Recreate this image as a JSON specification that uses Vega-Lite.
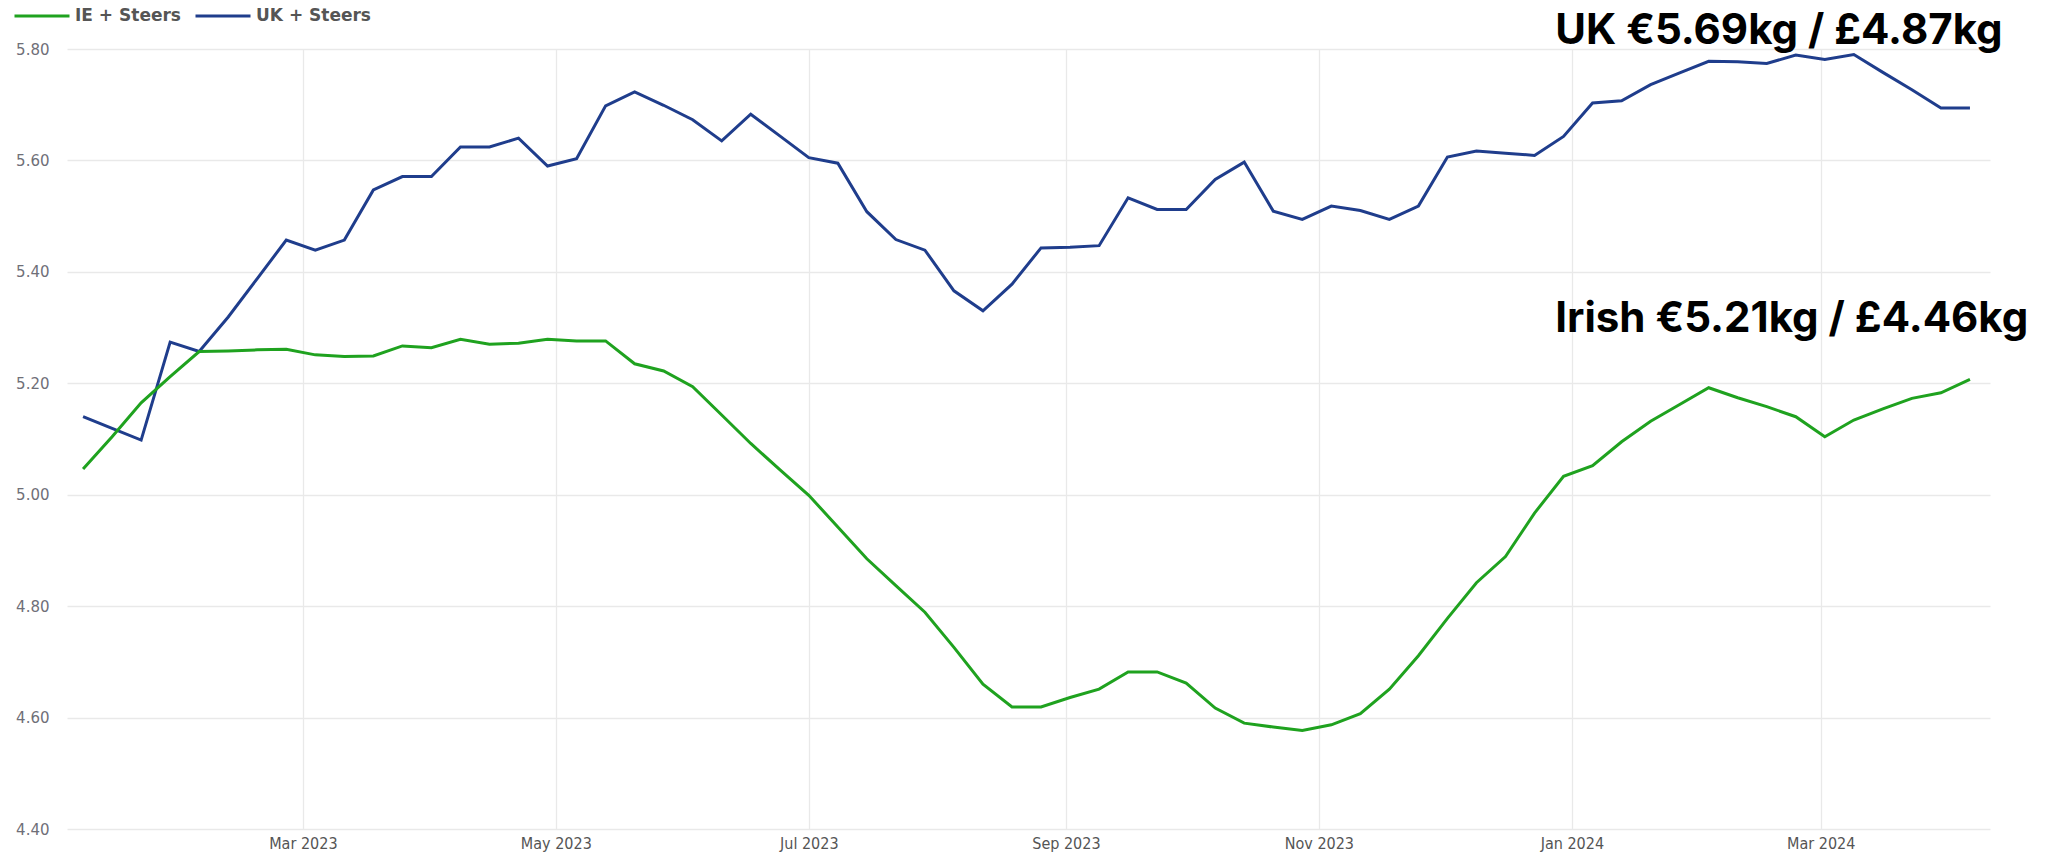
{
  "$schema": "https://vega.github.io/schema/vega-lite/v6.json",
  "autosize": {"type": "none"},
  "width": 1923,
  "height": 780,
  "padding": {"left": 67, "top": 49, "right": 72, "bottom": 36},
  "background": "white",
  "config": {
    "view": {"stroke": null},
    "axis": {"gridColor": "#e9e9e9", "gridWidth": 1.3, "domain": false, "ticks": false, "title": null}
  },
  "datasets": {
    "prices": [
      {"date": "2023-01-07", "series": "UK + Steers", "value": 5.140},
      {"date": "2023-01-14", "series": "UK + Steers", "value": 5.119},
      {"date": "2023-01-21", "series": "UK + Steers", "value": 5.098},
      {"date": "2023-01-28", "series": "UK + Steers", "value": 5.274},
      {"date": "2023-02-04", "series": "UK + Steers", "value": 5.257},
      {"date": "2023-02-11", "series": "UK + Steers", "value": 5.319},
      {"date": "2023-02-18", "series": "UK + Steers", "value": 5.388},
      {"date": "2023-02-25", "series": "UK + Steers", "value": 5.457},
      {"date": "2023-03-04", "series": "UK + Steers", "value": 5.439},
      {"date": "2023-03-11", "series": "UK + Steers", "value": 5.457},
      {"date": "2023-03-18", "series": "UK + Steers", "value": 5.547},
      {"date": "2023-03-25", "series": "UK + Steers", "value": 5.571},
      {"date": "2023-04-01", "series": "UK + Steers", "value": 5.571},
      {"date": "2023-04-08", "series": "UK + Steers", "value": 5.624},
      {"date": "2023-04-15", "series": "UK + Steers", "value": 5.624},
      {"date": "2023-04-22", "series": "UK + Steers", "value": 5.640},
      {"date": "2023-04-29", "series": "UK + Steers", "value": 5.590},
      {"date": "2023-05-06", "series": "UK + Steers", "value": 5.603},
      {"date": "2023-05-13", "series": "UK + Steers", "value": 5.698},
      {"date": "2023-05-20", "series": "UK + Steers", "value": 5.723},
      {"date": "2023-05-27", "series": "UK + Steers", "value": 5.699},
      {"date": "2023-06-03", "series": "UK + Steers", "value": 5.673},
      {"date": "2023-06-10", "series": "UK + Steers", "value": 5.635},
      {"date": "2023-06-17", "series": "UK + Steers", "value": 5.683},
      {"date": "2023-06-24", "series": "UK + Steers", "value": 5.644},
      {"date": "2023-07-01", "series": "UK + Steers", "value": 5.605},
      {"date": "2023-07-08", "series": "UK + Steers", "value": 5.595},
      {"date": "2023-07-15", "series": "UK + Steers", "value": 5.508},
      {"date": "2023-07-22", "series": "UK + Steers", "value": 5.458},
      {"date": "2023-07-29", "series": "UK + Steers", "value": 5.439},
      {"date": "2023-08-05", "series": "UK + Steers", "value": 5.366},
      {"date": "2023-08-12", "series": "UK + Steers", "value": 5.330},
      {"date": "2023-08-19", "series": "UK + Steers", "value": 5.378},
      {"date": "2023-08-26", "series": "UK + Steers", "value": 5.443},
      {"date": "2023-09-02", "series": "UK + Steers", "value": 5.444},
      {"date": "2023-09-09", "series": "UK + Steers", "value": 5.447},
      {"date": "2023-09-16", "series": "UK + Steers", "value": 5.533},
      {"date": "2023-09-23", "series": "UK + Steers", "value": 5.512},
      {"date": "2023-09-30", "series": "UK + Steers", "value": 5.512},
      {"date": "2023-10-07", "series": "UK + Steers", "value": 5.566},
      {"date": "2023-10-14", "series": "UK + Steers", "value": 5.597},
      {"date": "2023-10-21", "series": "UK + Steers", "value": 5.509},
      {"date": "2023-10-28", "series": "UK + Steers", "value": 5.494},
      {"date": "2023-11-04", "series": "UK + Steers", "value": 5.518},
      {"date": "2023-11-11", "series": "UK + Steers", "value": 5.510},
      {"date": "2023-11-18", "series": "UK + Steers", "value": 5.494},
      {"date": "2023-11-25", "series": "UK + Steers", "value": 5.518},
      {"date": "2023-12-02", "series": "UK + Steers", "value": 5.606},
      {"date": "2023-12-09", "series": "UK + Steers", "value": 5.617},
      {"date": "2023-12-16", "series": "UK + Steers", "value": 5.613},
      {"date": "2023-12-23", "series": "UK + Steers", "value": 5.609},
      {"date": "2023-12-30", "series": "UK + Steers", "value": 5.643},
      {"date": "2024-01-06", "series": "UK + Steers", "value": 5.703},
      {"date": "2024-01-13", "series": "UK + Steers", "value": 5.707},
      {"date": "2024-01-20", "series": "UK + Steers", "value": 5.736},
      {"date": "2024-01-27", "series": "UK + Steers", "value": 5.757},
      {"date": "2024-02-03", "series": "UK + Steers", "value": 5.778},
      {"date": "2024-02-10", "series": "UK + Steers", "value": 5.777},
      {"date": "2024-02-17", "series": "UK + Steers", "value": 5.774},
      {"date": "2024-02-24", "series": "UK + Steers", "value": 5.789},
      {"date": "2024-03-02", "series": "UK + Steers", "value": 5.781},
      {"date": "2024-03-09", "series": "UK + Steers", "value": 5.790},
      {"date": "2024-03-16", "series": "UK + Steers", "value": 5.758},
      {"date": "2024-03-23", "series": "UK + Steers", "value": 5.727},
      {"date": "2024-03-30", "series": "UK + Steers", "value": 5.694},
      {"date": "2024-04-06", "series": "UK + Steers", "value": 5.694},
      {"date": "2023-01-07", "series": "IE + Steers", "value": 5.046},
      {"date": "2023-01-14", "series": "IE + Steers", "value": 5.104},
      {"date": "2023-01-21", "series": "IE + Steers", "value": 5.165},
      {"date": "2023-01-28", "series": "IE + Steers", "value": 5.212},
      {"date": "2023-02-04", "series": "IE + Steers", "value": 5.257},
      {"date": "2023-02-11", "series": "IE + Steers", "value": 5.258},
      {"date": "2023-02-18", "series": "IE + Steers", "value": 5.260},
      {"date": "2023-02-25", "series": "IE + Steers", "value": 5.261},
      {"date": "2023-03-04", "series": "IE + Steers", "value": 5.251},
      {"date": "2023-03-11", "series": "IE + Steers", "value": 5.248},
      {"date": "2023-03-18", "series": "IE + Steers", "value": 5.249},
      {"date": "2023-03-25", "series": "IE + Steers", "value": 5.267},
      {"date": "2023-04-01", "series": "IE + Steers", "value": 5.264},
      {"date": "2023-04-08", "series": "IE + Steers", "value": 5.279},
      {"date": "2023-04-15", "series": "IE + Steers", "value": 5.270},
      {"date": "2023-04-22", "series": "IE + Steers", "value": 5.272},
      {"date": "2023-04-29", "series": "IE + Steers", "value": 5.279},
      {"date": "2023-05-06", "series": "IE + Steers", "value": 5.276},
      {"date": "2023-05-13", "series": "IE + Steers", "value": 5.276},
      {"date": "2023-05-20", "series": "IE + Steers", "value": 5.235},
      {"date": "2023-05-27", "series": "IE + Steers", "value": 5.222},
      {"date": "2023-06-03", "series": "IE + Steers", "value": 5.194},
      {"date": "2023-06-10", "series": "IE + Steers", "value": 5.143},
      {"date": "2023-06-17", "series": "IE + Steers", "value": 5.092},
      {"date": "2023-06-24", "series": "IE + Steers", "value": 5.045},
      {"date": "2023-07-01", "series": "IE + Steers", "value": 4.999},
      {"date": "2023-07-08", "series": "IE + Steers", "value": 4.942},
      {"date": "2023-07-15", "series": "IE + Steers", "value": 4.885},
      {"date": "2023-07-22", "series": "IE + Steers", "value": 4.837},
      {"date": "2023-07-29", "series": "IE + Steers", "value": 4.789},
      {"date": "2023-08-05", "series": "IE + Steers", "value": 4.726},
      {"date": "2023-08-12", "series": "IE + Steers", "value": 4.660},
      {"date": "2023-08-19", "series": "IE + Steers", "value": 4.619},
      {"date": "2023-08-26", "series": "IE + Steers", "value": 4.619},
      {"date": "2023-09-02", "series": "IE + Steers", "value": 4.636},
      {"date": "2023-09-09", "series": "IE + Steers", "value": 4.651},
      {"date": "2023-09-16", "series": "IE + Steers", "value": 4.682},
      {"date": "2023-09-23", "series": "IE + Steers", "value": 4.682},
      {"date": "2023-09-30", "series": "IE + Steers", "value": 4.662},
      {"date": "2023-10-07", "series": "IE + Steers", "value": 4.617},
      {"date": "2023-10-14", "series": "IE + Steers", "value": 4.590},
      {"date": "2023-10-21", "series": "IE + Steers", "value": 4.583},
      {"date": "2023-10-28", "series": "IE + Steers", "value": 4.577},
      {"date": "2023-11-04", "series": "IE + Steers", "value": 4.587},
      {"date": "2023-11-11", "series": "IE + Steers", "value": 4.607},
      {"date": "2023-11-18", "series": "IE + Steers", "value": 4.651},
      {"date": "2023-11-25", "series": "IE + Steers", "value": 4.711},
      {"date": "2023-12-02", "series": "IE + Steers", "value": 4.778},
      {"date": "2023-12-09", "series": "IE + Steers", "value": 4.842},
      {"date": "2023-12-16", "series": "IE + Steers", "value": 4.889},
      {"date": "2023-12-23", "series": "IE + Steers", "value": 4.967},
      {"date": "2023-12-30", "series": "IE + Steers", "value": 5.033},
      {"date": "2024-01-06", "series": "IE + Steers", "value": 5.052},
      {"date": "2024-01-13", "series": "IE + Steers", "value": 5.095},
      {"date": "2024-01-20", "series": "IE + Steers", "value": 5.132},
      {"date": "2024-01-27", "series": "IE + Steers", "value": 5.162},
      {"date": "2024-02-03", "series": "IE + Steers", "value": 5.192},
      {"date": "2024-02-10", "series": "IE + Steers", "value": 5.174},
      {"date": "2024-02-17", "series": "IE + Steers", "value": 5.158},
      {"date": "2024-02-24", "series": "IE + Steers", "value": 5.140},
      {"date": "2024-03-02", "series": "IE + Steers", "value": 5.104},
      {"date": "2024-03-09", "series": "IE + Steers", "value": 5.134},
      {"date": "2024-03-16", "series": "IE + Steers", "value": 5.154},
      {"date": "2024-03-23", "series": "IE + Steers", "value": 5.173},
      {"date": "2024-03-30", "series": "IE + Steers", "value": 5.183},
      {"date": "2024-04-06", "series": "IE + Steers", "value": 5.207}
    ],
    "notes": [
      {"date": "2023-12-28", "value": 5.809, "label": "UK €5.69kg / £4.87kg"},
      {"date": "2023-12-28", "value": 5.292, "label": "Irish €5.21kg / £4.46kg"}
    ]
  },
  "layer": [
    {
      "data": {"name": "prices"},
      "mark": {"type": "line", "strokeWidth": 3, "interpolate": "linear"},
      "encoding": {
        "x": {
          "field": "date",
          "type": "temporal",
          "scale": {
            "type": "utc",
            "domain": [
              {"year": 2023, "month": 1, "date": 3, "hours": 3, "utc": true},
              {"year": 2024, "month": 4, "date": 10, "hours": 20, "utc": true}
            ]
          },
          "axis": {
            "format": "%b %Y",
            "tickCount": {"interval": "month", "step": 2},
            "labelFont": "DejaVu Sans Condensed, Liberation Sans, sans-serif",
            "labelFontSize": 16,
            "labelColor": "#555555",
            "labelPadding": 6,
            "labelFlush": false
          }
        },
        "y": {
          "field": "value",
          "type": "quantitative",
          "scale": {"domain": [4.4, 5.8], "nice": false, "zero": false},
          "axis": {
            "values": [4.4, 4.6, 4.8, 5.0, 5.2, 5.4, 5.6, 5.8],
            "format": ".2f",
            "labelFont": "DejaVu Sans",
            "labelFontSize": 15,
            "labelColor": "#6f6f78",
            "labelPadding": 18
          }
        },
        "color": {
          "field": "series",
          "type": "nominal",
          "scale": {"domain": ["IE + Steers", "UK + Steers"], "range": ["#1fa21f", "#1f3d8c"]},
          "legend": {
            "title": null,
            "orient": "none",
            "legendX": -54,
            "legendY": -62,
            "direction": "horizontal",
            "padding": 0,
            "symbolType": "stroke",
            "symbolSize": 3025,
            "symbolStrokeWidth": 3,
            "labelFont": "DejaVu Sans",
            "labelFontWeight": "bold",
            "labelFontSize": 17,
            "labelColor": "#555555",
            "labelOffset": 4,
            "columnPadding": 8
          }
        }
      }
    },
    {
      "data": {"name": "notes"},
      "mark": {"type": "text", "align": "left", "baseline": "alphabetic", "font": "Inter", "fontWeight": "bold", "fontSize": 42, "color": "#000000"},
      "encoding": {
        "x": {"field": "date", "type": "temporal"},
        "y": {"field": "value", "type": "quantitative"},
        "text": {"field": "label"}
      }
    }
  ]
}
